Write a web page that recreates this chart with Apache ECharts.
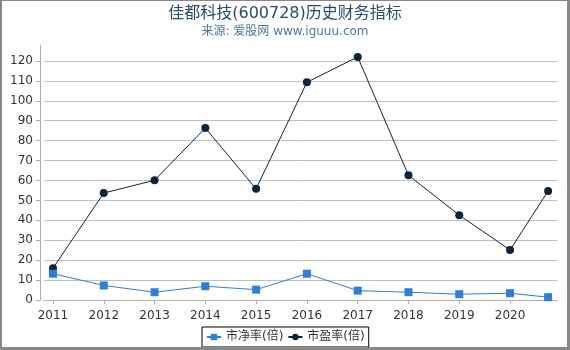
<!DOCTYPE html>
<html>
<head>
<meta charset="utf-8">
<script src="https://cdn.jsdelivr.net/npm/echarts@6/dist/echarts.min.js"></script>
<style>
html,body{margin:0;padding:0;background:#fff;}
#frame{width:570px;height:350px;box-sizing:border-box;border-style:solid;border-color:#888;border-width:1px 3px 3px 2px;position:relative;overflow:hidden;}
#chart{position:absolute;left:-2px;top:-1px;width:570px;height:350px;}
</style>
</head>
<body>
<div id="frame"><div id="chart"></div></div>
<script>
// Periods (year positions; last point is a partial-year report)
var periods = [2011, 2012, 2013, 2014, 2015, 2016, 2017, 2018, 2019, 2020, 2020.75];
var xTickLabels = [2011, 2012, 2013, 2014, 2015, 2016, 2017, 2018, 2019, 2020];
var yTicks = [0, 10, 20, 30, 40, 50, 60, 70, 80, 90, 100, 110, 120];
var pbValues = [13.2, 7.3, 3.9, 6.9, 5.2, 13.2, 4.7, 3.9, 2.9, 3.4, 1.4];   // 市净率(倍)
var peValues = [16.0, 53.7, 60.1, 86.3, 55.8, 109.3, 122.0, 62.6, 42.6, 25.1, 54.7]; // 市盈率(倍)
var seriesNames = ['市净率(倍)', '市盈率(倍)'];

function pairs(xs, ys) { return xs.map(function (x, i) { return [x, ys[i]]; }); }

var font = '"DejaVu Sans", "Noto Sans CJK SC", sans-serif';
var chart = echarts.init(document.getElementById('chart'), null, { renderer: 'canvas' });
chart.setOption({
  animation: false,
  backgroundColor: '#fff',
  title: {
    text: '佳都科技(600728)历史财务指标',
    subtext: '来源: 爱股网 www.iguuu.com',
    left: 'center',
    top: 1,
    itemGap: 4,
    textStyle: { fontSize: 16, fontWeight: 'normal', color: '#274b6d', fontFamily: font },
    subtextStyle: { fontSize: 12, color: '#4d759e', fontFamily: font }
  },
  legend: {
    bottom: 3,
    left: 202,
    borderColor: '#000',
    borderWidth: 1,
    borderRadius: 0,
    padding: [4, 4],
    itemGap: 4,
    itemWidth: 14,
    itemHeight: 8,
    textStyle: { fontSize: 12, color: '#333', fontFamily: font },
    data: seriesNames
  },
  grid: { left: 44, right: 13, top: 45, bottom: 50, containLabel: false },
  xAxis: {
    type: 'value',
    min: 2010.823,
    max: 2020.925,
    offset: 4,
    axisLine: { show: true, lineStyle: { color: '#b0b0b0' } },
    axisTick: { show: true, length: 4, lineStyle: { color: '#b0b0b0' }, customValues: xTickLabels },
    axisLabel: { customValues: xTickLabels, margin: 6, fontSize: 12, color: '#333', fontFamily: font,
      formatter: function (v) { return String(Math.round(v)); } },
    splitLine: { show: false }
  },
  yAxis: {
    type: 'value',
    min: 0,
    max: 128,
    offset: 4,
    axisLine: { show: true, lineStyle: { color: '#b0b0b0' } },
    axisTick: { show: true, length: 4, lineStyle: { color: '#b0b0b0' }, customValues: yTicks },
    axisLabel: { customValues: yTicks, margin: 7, fontSize: 12, color: '#333', fontFamily: font },
    splitLine: { show: true, lineStyle: { color: '#c0c0c0', width: 1 } }
  },
  series: [
    {
      name: seriesNames[0],
      type: 'line',
      data: pairs(periods, pbValues),
      symbol: 'rect',
      symbolSize: 8,
      itemStyle: { color: '#2f7ed8' },
      lineStyle: { color: '#2f7ed8', width: 1 },
      z: 3
    },
    {
      name: seriesNames[1],
      type: 'line',
      data: pairs(periods, peValues),
      symbol: 'circle',
      symbolSize: 8,
      itemStyle: { color: '#0d233a' },
      lineStyle: { color: '#0d233a', width: 1 },
      z: 2
    }
  ]
});
</script>
</body>
</html>
